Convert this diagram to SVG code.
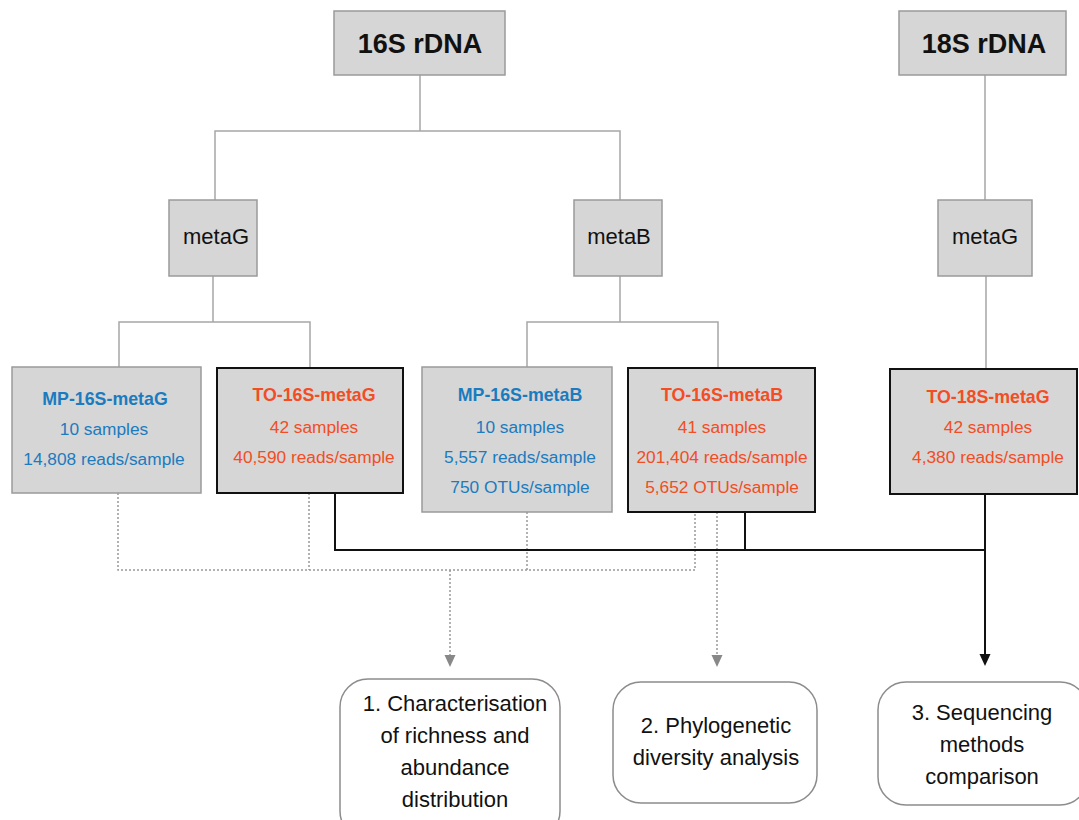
<svg xmlns="http://www.w3.org/2000/svg" width="1079" height="820" viewBox="0 0 1079 820">
<style>
text{font-family:"Liberation Sans",Arial,sans-serif;text-anchor:middle}
.box{fill:#d6d6d6;stroke:#9a9a9a;stroke-width:1.5}
.boxk{fill:#d6d6d6;stroke:#111;stroke-width:2}
.rb{fill:#fff;stroke:#8c8c8c;stroke-width:1.5}
.head{font-size:27px;font-weight:bold;fill:#111}
.mid{font-size:22px;fill:#111}
.blue{fill:#1b7bbf;font-size:17.3px}
.red{fill:#f24d23;font-size:17.3px}
.b{font-weight:bold;font-size:17.8px}
.goal{font-size:22px;fill:#111}
.tree{fill:none;stroke:#a6a6a6;stroke-width:1.5}
.dot{fill:none;stroke:#999;stroke-width:1.5;stroke-dasharray:2 2}
.solid{fill:none;stroke:#111;stroke-width:2}
</style>
<defs>
<marker id="ag" markerWidth="12" markerHeight="12" refX="6" refY="6" orient="auto" markerUnits="userSpaceOnUse"><path d="M0,0.5 L12,6 L0,11.5 z" fill="#888"/></marker>
<marker id="ak" markerWidth="12" markerHeight="12" refX="6" refY="6" orient="auto" markerUnits="userSpaceOnUse"><path d="M0,0.5 L12,6 L0,11.5 z" fill="#111"/></marker>
</defs>
<g id="connectors">
<path class="tree" d="M420,75 V131 M215,200 V131 H620 V200 M985,75 V200 M213,276 V322 M119,367 V322 H310 V368 M620,276 V322 M527,367 V322 H718 V367 M986,276 V369"/>
<path class="dot" d="M118,493 V570 H695 V512 M309,493 V570 M527,512 V570"/>
<path class="dot" d="M450,570 V661" marker-end="url(#ag)"/>
<path class="dot" d="M717,512 V661" marker-end="url(#ag)"/>
<path class="solid" d="M335,493 V550 H985 M745,512 V550"/>
<path class="solid" d="M985,494 V660" marker-end="url(#ak)"/>
</g>
<g id="n16S"><rect class="box" x="334" y="11" width="171" height="64"/><text class="head" x="420" y="53">16S rDNA</text></g>
<g id="n18S"><rect class="box" x="899" y="11" width="167" height="64"/><text class="head" x="984" y="53">18S rDNA</text></g>
<g id="metaG16"><rect class="box" x="169" y="200" width="88" height="76"/><text class="mid" x="216" y="244">metaG</text></g>
<g id="metaB16"><rect class="box" x="574" y="200" width="88" height="76"/><text class="mid" x="619" y="244">metaB</text></g>
<g id="metaG18"><rect class="box" x="938" y="200" width="94" height="76"/><text class="mid" x="985" y="244">metaG</text></g>
<g id="mp16g"><rect class="box" x="12" y="367" width="189" height="126"/>
<text class="blue b" x="105" y="405">MP-16S-metaG</text>
<text class="blue" x="104" y="435">10 samples</text>
<text class="blue" x="104" y="465">14,808 reads/sample</text></g>
<g id="to16g"><rect class="boxk" x="217" y="368" width="186" height="125"/>
<text class="red b" x="314" y="401">TO-16S-metaG</text>
<text class="red" x="314" y="433">42 samples</text>
<text class="red" x="314" y="463">40,590 reads/sample</text></g>
<g id="mp16b"><rect class="box" x="422" y="367" width="190" height="145"/>
<text class="blue b" x="520" y="401">MP-16S-metaB</text>
<text class="blue" x="520" y="433">10 samples</text>
<text class="blue" x="520" y="463">5,557 reads/sample</text>
<text class="blue" x="520" y="493">750 OTUs/sample</text></g>
<g id="to16b"><rect class="boxk" x="628" y="368" width="187" height="144"/>
<text class="red b" x="722" y="401">TO-16S-metaB</text>
<text class="red" x="722" y="433">41 samples</text>
<text class="red" x="722" y="463">201,404 reads/sample</text>
<text class="red" x="722" y="493">5,652 OTUs/sample</text></g>
<g id="to18g"><rect class="boxk" x="890" y="369" width="187" height="125"/>
<text class="red b" x="988" y="403">TO-18S-metaG</text>
<text class="red" x="988" y="433">42 samples</text>
<text class="red" x="988" y="463">4,380 reads/sample</text></g>
<g id="goal1"><rect class="rb" x="340" y="679" width="220" height="160" rx="28"/>
<text class="goal" x="455" y="711">1. Characterisation</text>
<text class="goal" x="455" y="743">of richness and</text>
<text class="goal" x="455" y="775">abundance</text>
<text class="goal" x="455" y="807">distribution</text></g>
<g id="goal2"><rect class="rb" x="613" y="682" width="204" height="121" rx="28"/>
<text class="goal" x="716" y="733">2. Phylogenetic</text>
<text class="goal" x="716" y="765">diversity analysis</text></g>
<g id="goal3"><rect class="rb" x="878" y="682" width="210" height="123" rx="28"/>
<text class="goal" x="982" y="720">3. Sequencing</text>
<text class="goal" x="982" y="752">methods</text>
<text class="goal" x="982" y="784">comparison</text></g>
</svg>
